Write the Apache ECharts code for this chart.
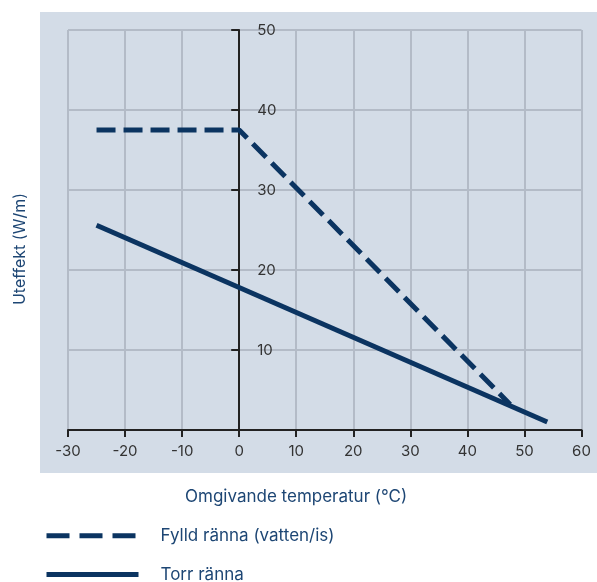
<!DOCTYPE html>
<html>
<head>
<meta charset="utf-8">
<script src="https://cdn.jsdelivr.net/npm/echarts@6/dist/echarts.min.js"></script>
<style>
  html, body { margin: 0; padding: 0; background: #fff; }
  #chart { width: 597px; height: 582px; }
</style>
</head>
<body>
<div id="chart"></div>
<script>
// data
const xTicks = [-30, -20, -10, 0, 10, 20, 30, 40, 50, 60];
const yTicks = [10, 20, 30, 40, 50];
const fylldName = 'Fylld ränna (vatten/is)';
const fylldData = [[-25, 37.5], [0, 37.5], [47.5, 3.2]];
const torrName = 'Torr ränna';
const torrData = [[-25, 25.6], [54, 1.0]];

const navy = '#0b3461';
const font = 'Inter, "Noto Sans", sans-serif';

let myChart = echarts.init(document.getElementById('chart'));
myChart.setOption({
  animation: false,
  title: {
    text: 'Omgivande temperatur (°C)',
    left: 180,
    top: 483,
    textStyle: { color: '#1d4674', fontSize: 17, fontWeight: 'normal', fontFamily: font }
  },
  graphic: [
    {
      type: 'rect',
      z: -10,
      shape: { x: 40, y: 12, width: 557, height: 461 },
      style: { fill: '#d3dce7' }
    },
    {
      type: 'text',
      x: 20,
      y: 249,
      rotation: Math.PI / 2,
      style: {
        text: 'Uteffekt (W/m)',
        fill: '#1d4674',
        font: '16px ' + font,
        align: 'center',
        verticalAlign: 'middle'
      }
    }
  ],
  legend: {
    orient: 'vertical',
    left: 44,
    top: 527,
    height: 90,
    padding: 0,
    itemWidth: 92,
    itemHeight: 22,
    itemGap: 21,
    selectedMode: false,
    textStyle: { color: '#1d4674', fontSize: 17, fontFamily: font, padding: [0, 0, 0, 17] },
    data: [
      { name: fylldName, itemStyle: { opacity: 0 }, lineStyle: { type: [23, 10], width: 5 } },
      { name: torrName, itemStyle: { opacity: 0 }, lineStyle: { width: 5 } }
    ]
  },
  grid: { left: 68, right: 15.5, top: 30, bottom: 152 },
  xAxis: {
    type: 'value',
    min: -30,
    max: 60,
    interval: 10,
    axisLine: { lineStyle: { color: '#222', width: 2 } },
    axisTick: { length: 7, lineStyle: { color: '#222', width: 2 } },
    axisLabel: { color: '#333', fontSize: 15, fontFamily: font, margin: 14 },
    splitLine: { lineStyle: { color: '#b3bbc7', width: 2 } }
  },
  yAxis: {
    type: 'value',
    min: 0,
    max: 50,
    interval: 10,
    // y axis sits at x = 0, so shift it right from the grid's left edge
    offset: -171.2,
    axisLine: { show: true, onZero: false, lineStyle: { color: '#222', width: 2 } },
    axisTick: { show: true, length: 8, lineStyle: { color: '#222', width: 2 } },
    axisLabel: {
      inside: true,
      margin: 18,
      color: '#333',
      fontSize: 15,
      fontFamily: font,
      formatter: v => (yTicks.indexOf(v) >= 0 ? String(v) : '')
    },
    splitLine: { lineStyle: { color: '#b3bbc7', width: 2 } }
  },
  series: [
    {
      name: fylldName,
      type: 'line',
      symbol: 'none',
      data: fylldData,
      lineStyle: { color: navy, width: 5, type: [19, 8] },
      itemStyle: { color: navy },
      z: 3
    },
    {
      name: torrName,
      type: 'line',
      symbol: 'none',
      data: torrData,
      lineStyle: { color: navy, width: 5 },
      itemStyle: { color: navy },
      z: 3
    }
  ]
});
</script>
</body>
</html>
